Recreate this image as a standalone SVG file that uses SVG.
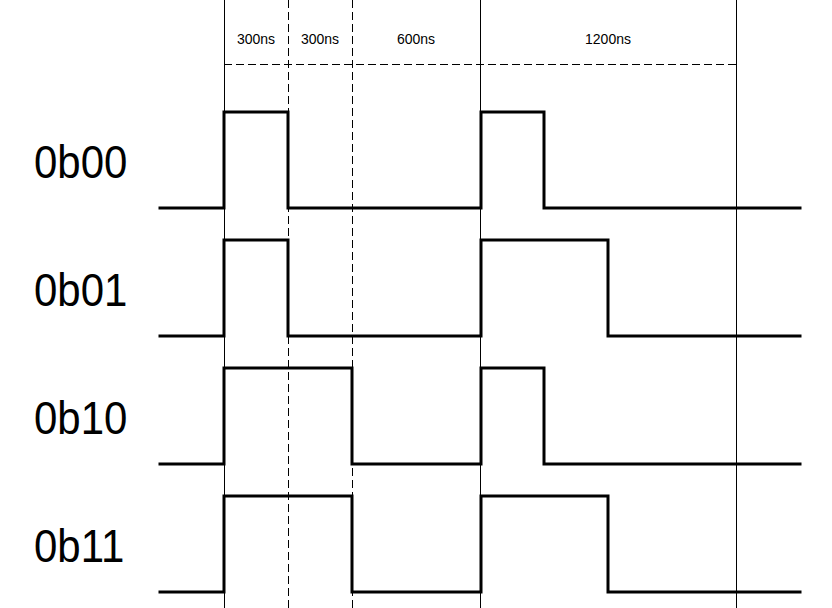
<svg xmlns="http://www.w3.org/2000/svg" width="832" height="608" viewBox="0 0 832 608">
<style>
.grid{stroke:#000;stroke-width:1;fill:none}
.dash{stroke:#000;stroke-width:1;fill:none;stroke-dasharray:8 4}
.wave{stroke:#000;stroke-width:3;fill:none;stroke-linejoin:miter;stroke-linecap:square}
.lbl{font-family:"Liberation Sans",Arial,sans-serif;font-size:42px;fill:#000}
.dur{font-family:"Liberation Sans",Arial,sans-serif;font-size:14px;fill:#000;text-anchor:middle}
</style>
<rect width="832" height="608" fill="#fff"/>
<g id="connectors">
<line class="grid" x1="224.5" y1="0" x2="224.5" y2="608"/>
<line class="dash" x1="288.5" y1="0" x2="288.5" y2="608"/>
<line class="dash" x1="352.5" y1="0" x2="352.5" y2="608"/>
<line class="grid" x1="480.5" y1="0" x2="480.5" y2="608"/>
<line class="grid" x1="736.5" y1="0" x2="736.5" y2="608"/>
<line class="dash" x1="224" y1="64.5" x2="736" y2="64.5"/>
</g>
<g id="durations">
<text class="dur" x="256" y="44">300ns</text>
<text class="dur" x="320" y="44">300ns</text>
<text class="dur" x="416" y="44">600ns</text>
<text class="dur" x="608" y="44">1200ns</text>
</g>
<g id="row-0b00">
<text class="lbl" x="34" y="178" transform="translate(0,178) scale(1,1.1) translate(0,-178)">0b00</text>
<polyline class="wave" points="160,208 224,208 224,112 288,112 288,208 481,208 481,112 544,112 544,208 800,208"/>
</g>
<g id="row-0b01">
<text class="lbl" x="34" y="306" transform="translate(0,306) scale(1,1.1) translate(0,-306)">0b01</text>
<polyline class="wave" points="160,336 224,336 224,240 288,240 288,336 481,336 481,240 608,240 608,336 800,336"/>
</g>
<g id="row-0b10">
<text class="lbl" x="34" y="434" transform="translate(0,434) scale(1,1.1) translate(0,-434)">0b10</text>
<polyline class="wave" points="160,464 224,464 224,368 352,368 352,464 481,464 481,368 544,368 544,464 800,464"/>
</g>
<g id="row-0b11">
<text class="lbl" x="34" y="562" transform="translate(0,562) scale(1,1.1) translate(0,-562)">0b11</text>
<polyline class="wave" points="160,592 224,592 224,496 352,496 352,592 481,592 481,496 608,496 608,592 800,592"/>
</g>
</svg>
